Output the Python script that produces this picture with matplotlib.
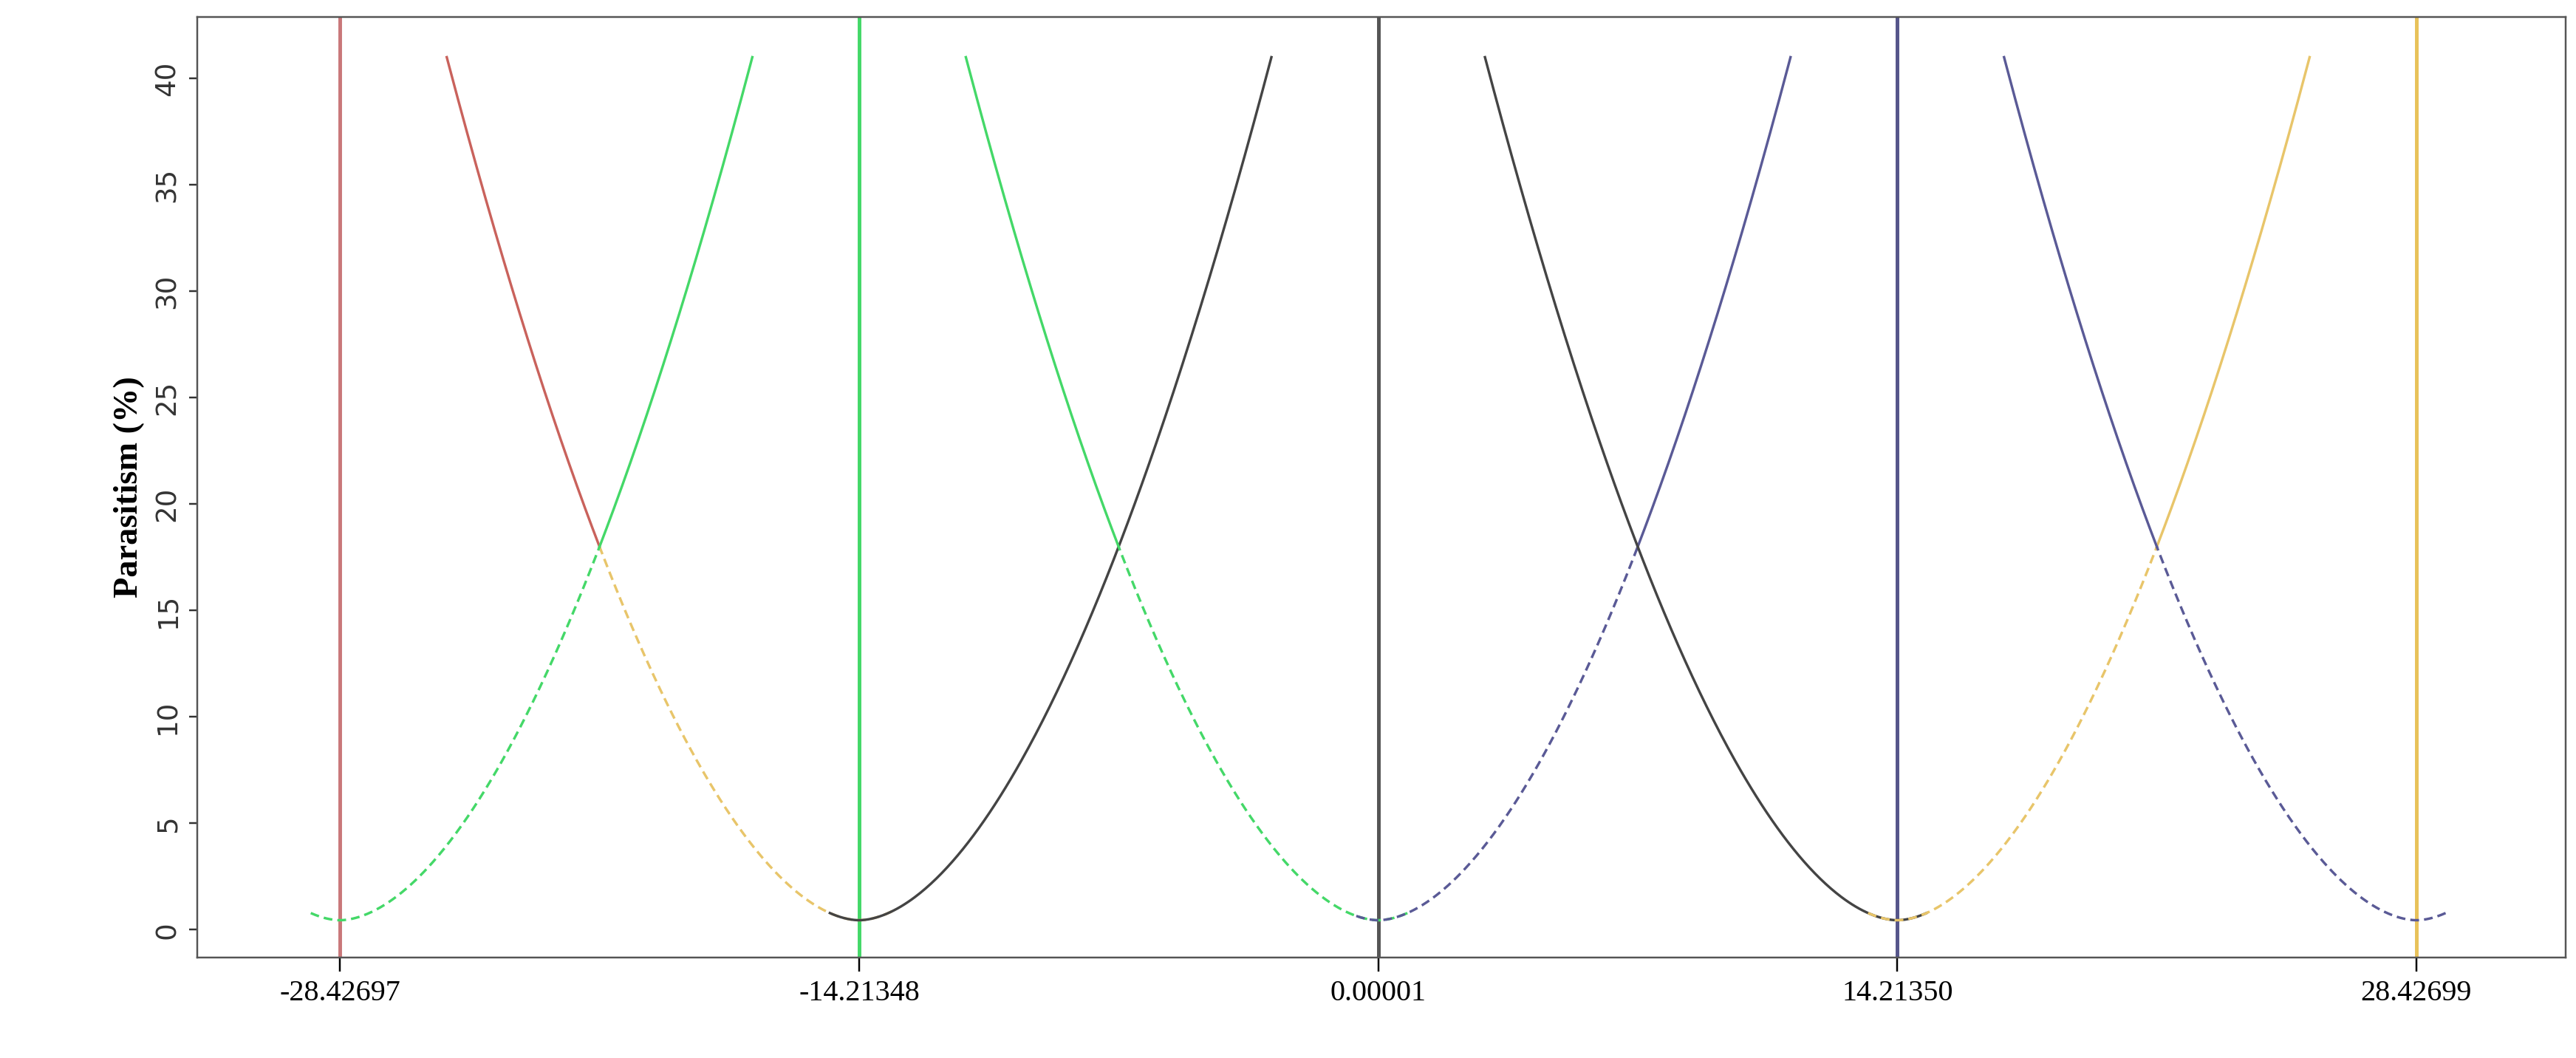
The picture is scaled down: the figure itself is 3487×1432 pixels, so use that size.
import numpy as np
import matplotlib.pyplot as plt

# centres of the five classes (x axis ticks)
centers = [-28.42697, -14.21348, 0.00001, 14.21350, 28.42699]
tick_labels = ['-28.42697', '-14.21348', '0.00001', '14.21350', '28.42699']
vline_colors = ['#c9787a', '#44d868', '#555555', '#55558a', '#e8c25a']

# curve parameters: y = a*|x-c|^p + y0
y0 = 0.45
y_cross = 18.0
y_top = 41.0
half = 7.1068   # crossing point between neighbouring centres
d_top = 11.29   # distance from centre where curves reach the top
p_exp = np.log((y_top - y0) / (y_cross - y0)) / np.log(d_top / half)
a_coef = (y_cross - y0) / half ** p_exp

# branches: (centre index, side, extent below centre, solid colour, dashed colour)
branches = [
    (1, -1, 0.9, '#c9625c', '#e8c56a'),
    (0, +1, 0.8, '#44d868', '#44d868'),
    (1, +1, 0.8, '#444444', None),
    (2, -1, 0.8, '#44d868', '#44d868'),
    (2, +1, 0.6, '#5a5a96', '#5a5a96'),
    (3, -1, 0.8, '#444444', None),
    (3, +1, 0.8, '#e8c56a', '#e8c56a'),
    (4, -1, 0.8, '#5a5a96', '#5a5a96'),
]


def curve(d):
    return a_coef * np.abs(d) ** p_exp + y0


fig = plt.figure(figsize=(15.68, 6.44), dpi=222.4)
ax = fig.add_axes([0.0765, 0.095, 0.9195, 0.889])

for x, c in zip(centers, vline_colors):
    ax.axvline(x, color=c, lw=1.6)

for ci, side, ext, csolid, cdash in branches:
    c = centers[ci]
    if cdash is None:
        d = np.linspace(-ext, d_top, 250)
        ax.plot(c + side * d, curve(d), color=csolid, lw=1.1)
        continue
    d1 = np.linspace(half, d_top, 150)
    ax.plot(c + side * d1, curve(d1), color=csolid, lw=1.1)
    d2 = np.linspace(-ext, half, 200)
    ax.plot(c + side * d2, curve(d2), color=cdash, lw=1.1, ls=(0, (3.5, 2)))

ax.set_xlim(-32.34, 32.52)
ax.set_ylim(-1.3, 42.9)
ax.set_xticks(centers)
ax.set_xticklabels(tick_labels, family='Liberation Serif', fontsize=13)
ax.set_yticks(np.arange(0, 41, 5))
ax.tick_params(axis='y', labelrotation=90, labelsize=12, colors='#333333')
ax.tick_params(axis='x', length=6)
for lab in ax.get_yticklabels():
    lab.set_va('center')
ax.set_ylabel('Parasitism (%)', family='Liberation Serif', fontweight='bold', fontsize=15)
for s in ax.spines.values():
    s.set_color('#555555')

fig.savefig('out.png', dpi=222.4)
